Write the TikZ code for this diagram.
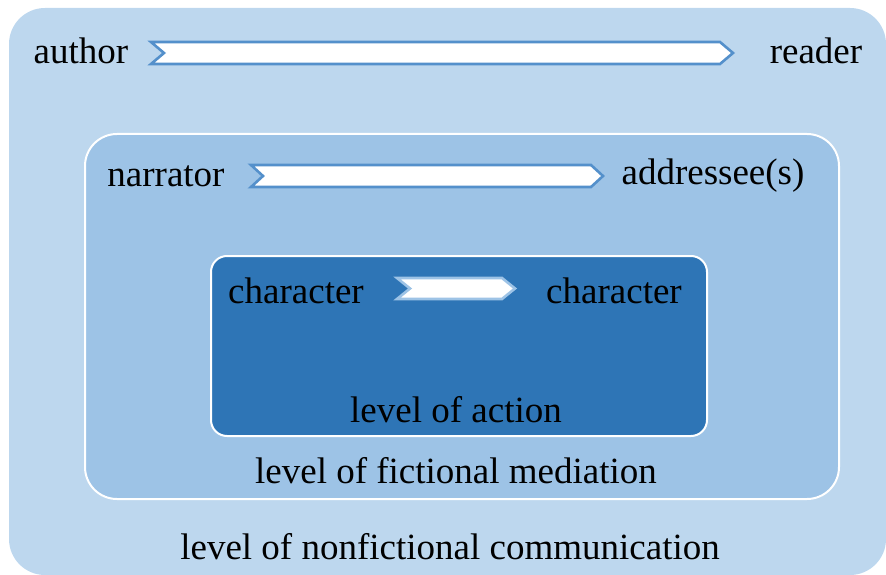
\documentclass[tikz,border=0pt]{standalone}
\usepackage{fontspec}
\newfontfamily\lblfont{Liberation Serif}
\definecolor{outerblue}{HTML}{BDD7EE}
\definecolor{midblue}{HTML}{9DC3E6}
\definecolor{innerblue}{HTML}{2E75B6}
\definecolor{arrowline}{HTML}{5490CB}
\definecolor{arrowlight}{HTML}{9DC3E6}
\tikzset{
  lbl/.style={font=\lblfont\fontsize{37}{44}\selectfont},
  chev/.style={fill=white, draw=arrowline, line width=2.6pt, line join=miter},
  chevlight/.style={fill=white, draw=arrowlight, line width=2.6pt, line join=miter},
}
% chevron: #1 style, #2 left x, #3 right x, #4 top y, #5 bottom y, #6 notch/tip depth
\newcommand{\chevronpath}[6]{%
  \path[#1] (#2,#4) -- (#3-#6,#4) -- (#3,{(#4+#5)/2}) -- (#3-#6,#5) -- (#2,#5)
    -- (#2+#6,{(#4+#5)/2}) -- cycle;}
\begin{document}
\begin{tikzpicture}[x=1pt,y=-1pt]
\useasboundingbox (0,0) rectangle (886,575);
% nested levels
\fill[outerblue, rounded corners=36pt] (9,8) rectangle (886,575);
\filldraw[fill=midblue, draw=white, line width=2pt, rounded corners=32pt] (85,134) rectangle (839,499);
\filldraw[fill=innerblue, draw=white, line width=2pt, rounded corners=16pt] (211,256) rectangle (707,436);
% communication arrows
\chevronpath{chev}{151}{733}{42}{64}{13}
\chevronpath{chev}{251}{603}{165}{187}{12}
\chevronpath{chevlight}{397}{515}{278}{299}{13}
% labels (centred on the visual middle of each line of text)
\node[lbl] (author) at (81,51) {author};
\node[lbl] (reader) at (816,51) {reader};
\node[lbl] (narrator) at (166,176) {narrator};
\node[lbl] (addressee) at (713,176) {addressee(s)};
\node[lbl] (charA) at (296,291) {character};
\node[lbl] (charB) at (614,291) {character};
\node[lbl] (action) at (456,410) {level of action};
\node[lbl] (mediation) at (456,471) {level of fictional mediation};
\node[lbl] (nonfiction) at (450,547) {level of nonfictional communication};
\end{tikzpicture}
\end{document}
